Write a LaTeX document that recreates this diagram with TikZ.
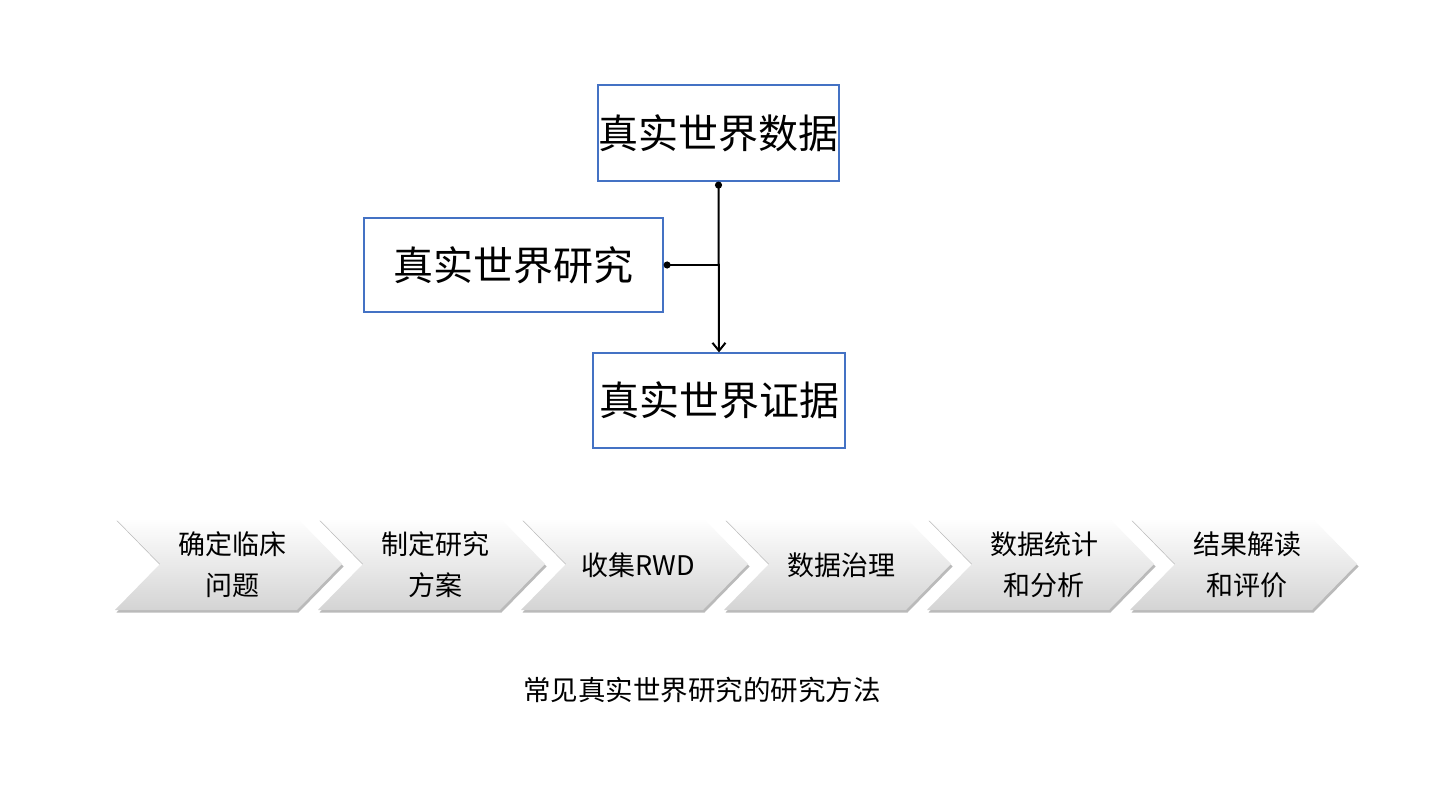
\documentclass[tikz,border=0pt]{standalone}
\usepackage{fontspec}
\setmainfont{Noto Sans CJK SC}
\usetikzlibrary{arrows.meta,shadows}
\definecolor{boxblue}{HTML}{4472C4}
\definecolor{chevbot}{HTML}{D4D4D4}
\tikzset{
  bigbox/.style={draw=boxblue, line width=1.2pt, fill=white, inner sep=0pt, font=\fontsize{40}{46}\selectfont},
  chev/.style={top color=white, bottom color=chevbot, draw=none,
    drop shadow={shadow xshift=1.5pt, shadow yshift=-2.5pt, opacity=0.45, fill=black!60}},
  chevtext/.style={align=center, font=\fontsize{27}{41}\selectfont, inner sep=0pt},
  conn/.style={line width=2pt, black},
}
\begin{document}
\begin{tikzpicture}[x=1pt,y=-1pt]
\useasboundingbox[fill=white] (0,0) rectangle (1440,810);
% top boxes
\node[bigbox, minimum width=241pt, minimum height=96pt] (data) at (718.5,133) {真实世界数据};
\node[bigbox, minimum width=299pt, minimum height=94pt] (study) at (513.5,265) {真实世界研究};
\node[bigbox, minimum width=252pt, minimum height=95pt] (evid) at (719,400.5) {真实世界证据};
\coordinate (j) at (719,265);
\draw[conn, {Circle[length=7pt,width=7pt]}-{Straight Barb[length=8pt,width=13pt]}] (data.south) -- (evid.north);
\draw[line width=1.6pt, {Circle[length=7pt,width=7pt]}-] (study.east) -- (j);
% chevrons
\foreach \i/\txt in {0/{确定临床\\问题},1/{制定研究\\方案},2/{收集RWD},3/{数据治理},4/{数据统计\\和分析},5/{结果解读\\和评价}}{
  \pgfmathsetmacro{\xa}{115+203*\i}
  \path[chev] (\xa,518) -- (\xa+182,518) -- (\xa+227,564) -- (\xa+182,610) -- (\xa,610) -- (\xa+45,564) -- cycle;
  \node[chevtext] (c\i) at (\xa+117,565) {\txt};
}
\node[font=\fontsize{27.5}{30}\selectfont, inner sep=0pt] (cap) at (702,690) {常见真实世界研究的研究方法};
\end{tikzpicture}
\end{document}
